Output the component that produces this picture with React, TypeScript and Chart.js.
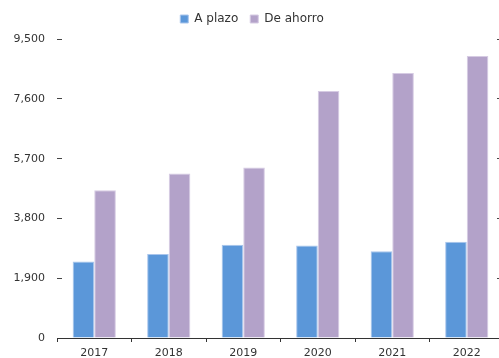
import React, { useEffect, useRef } from "react";
import { Chart, registerables } from "chart.js";

Chart.register(...registerables);

const categories = ["2017", "2018", "2019", "2020", "2021", "2022"];
const aPlazo = [2430, 2674, 2968, 2937, 2759, 3063];
const deAhorro = [4700, 5228, 5418, 7854, 8424, 8962];
const yTicks = [0, 1900, 3800, 5700, 7600, 9500];

const FONT = "'DejaVu Sans', sans-serif";

export default function App() {
  const ref = useRef<HTMLCanvasElement | null>(null);

  useEffect(() => {
    if (!ref.current) return;
    const chart = new Chart(ref.current, {
      type: "bar",
      data: {
        labels: categories,
        datasets: [
          {
            label: "A plazo",
            data: aPlazo,
            backgroundColor: "#5b97d9",
            borderColor: "#a9c5ec",
            borderWidth: 1,
            categoryPercentage: 0.58,
            barPercentage: 1,
          },
          {
            label: "De ahorro",
            data: deAhorro,
            backgroundColor: "#b3a2c9",
            borderColor: "#d6cbe3",
            borderWidth: 1,
            categoryPercentage: 0.58,
            barPercentage: 1,
          },
        ],
      },
      options: {
        animation: false,
        responsive: false,
        maintainAspectRatio: false,
        layout: { padding: { top: 1, right: 0, left: 0, bottom: 0 } },
        plugins: {
          legend: {
            position: "top",
            labels: {
              boxWidth: 8,
              boxHeight: 8,
              padding: 12,
              color: "#333",
              font: { family: FONT, size: 12 },
            },
          },
          subtitle: {
            display: true,
            text: " ",
            weight: 500,
            position: "top",
            font: { size: 1 },
            padding: { top: 0, bottom: 3 },
          } as any,
          tooltip: { enabled: false },
        },
        scales: {
          x: {
            grid: {
              offset: true,
              drawOnChartArea: false,
              tickLength: 4,
              color: "#333",
            },
            border: { color: "#333", width: 1 },
            ticks: {
              color: "#333",
              padding: 5,
              font: { family: FONT, size: 11 },
            },
            afterFit: (scale: any) => {
              scale.height = 20;
            },
          },
          y: {
            min: 0,
            max: 9500,
            afterBuildTicks: (scale: any) => {
              scale.ticks = yTicks.map((v) => ({ value: v }));
            },
            grid: {
              drawTicks: false,
              color: "#444",
              lineWidth: 1,
            },
            border: {
              display: false,
              dash: (ctx: any) => {
                const w = ctx.chart.chartArea ? ctx.chart.chartArea.width : 446;
                return [5, w - 12, 7];
              },
            },
            ticks: {
              color: "#333",
              padding: 12,
              font: { family: FONT, size: 11 },
              callback: (v: any) => Number(v).toLocaleString("en-US"),
            },
            afterFit: (scale: any) => {
              scale.width = 57;
            },
          },
        },
      },
    });
    return () => chart.destroy();
  }, []);

  return (
    <div
      style={{
        position: "absolute",
        left: 0,
        top: 0,
        width: 499,
        height: 358,
        overflow: "hidden",
        background: "#fff",
      }}
    >
      <canvas ref={ref} width={504} height={358} style={{ display: "block" }} />
    </div>
  );
}
